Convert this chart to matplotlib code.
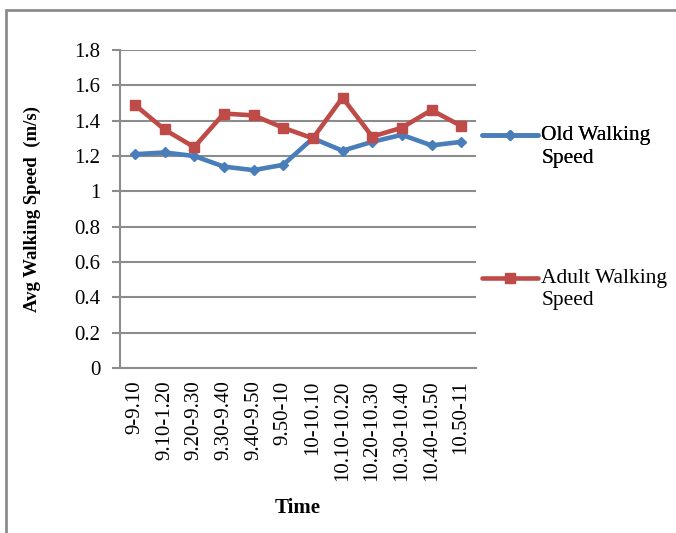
import matplotlib
matplotlib.use("Agg")
from matplotlib import pyplot as plt
from matplotlib import transforms as mtransforms
from matplotlib.legend_handler import HandlerLine2D
from matplotlib.patches import Rectangle

# данные
time_slots = ["9-9.10", "9.10-1.20", "9.20-9.30", "9.30-9.40", "9.40-9.50", "9.50-10",
              "10-10.10", "10.10-10.20", "10.20-10.30", "10.30-10.40", "10.40-10.50", "10.50-11"]
old_speed = [1.21, 1.22, 1.20, 1.14, 1.12, 1.15, 1.30, 1.23, 1.28, 1.32, 1.26, 1.28]
adult_speed = [1.49, 1.35, 1.25, 1.44, 1.43, 1.36, 1.30, 1.53, 1.31, 1.36, 1.46, 1.37]
y_ticks = [0, 0.2, 0.4, 0.6, 0.8, 1, 1.2, 1.4, 1.6, 1.8]

BLUE = "#4a7ebb"
RED = "#be4b48"
GRID = "#8c8c8c"
FS = 15

plt.rcParams["font.family"] = ["Liberation Serif", "DejaVu Serif"]


class FirstLineHandler(HandlerLine2D):
    """
    Маркер легенды на уровне первой строки подписи (как в Excel)
    """

    def create_artists(self, legend, orig_handle, xdescent, ydescent, width, height, fontsize, trans):
        trans = trans + mtransforms.ScaledTranslation(0, 8 / 72, legend.figure.dpi_scale_trans)
        return super().create_artists(legend, orig_handle, xdescent, ydescent, width, height,
                                      fontsize, trans)


def main() -> None:
    fig = plt.figure(figsize=(6.76, 5.33), dpi=100)
    ax = fig.add_axes([120 / 676, 1 - 368 / 533, 356 / 676, 318 / 533])

    x = list(range(len(time_slots)))
    l_old, = ax.plot(x, old_speed, color=BLUE, lw=3.3, marker="D", ms=5,
                     label="Old Walking\nSpeed", solid_capstyle="round")
    l_adult, = ax.plot(x, adult_speed, color=RED, lw=3.3, marker="s", ms=7,
                       label="Adult Walking\nSpeed", solid_capstyle="round")

    ax.set_xlim(-0.5, len(time_slots) - 0.5)
    ax.set_ylim(0, 1.8)
    ax.set_yticks(y_ticks)
    ax.set_yticklabels([f"{v:g}" for v in y_ticks], fontsize=FS)
    ax.set_xticks(x)
    ax.set_xticklabels(time_slots, rotation=90, fontsize=FS)
    ax.tick_params(axis="x", length=0, pad=9)
    ax.tick_params(axis="y", length=6, width=1.5, color=GRID, pad=8)

    ax.yaxis.grid(True, color=GRID, lw=1.5)
    ax.set_axisbelow(True)
    for s in ("top", "right"):
        ax.spines[s].set_visible(False)
    for s in ("left", "bottom"):
        ax.spines[s].set_color(GRID)
        ax.spines[s].set_linewidth(1.5)

    ax.set_xlabel("Time", fontsize=FS, fontweight="bold", labelpad=12)
    ax.set_ylabel("Avg Walking Speed  (m/s)", fontsize=13.5, fontweight="bold", labelpad=24)

    # две отдельные легенды, как в Excel
    leg_kw = dict(loc="upper left", frameon=False, handlelength=2.6, handletextpad=0.15,
                  borderaxespad=0, borderpad=0, prop={"size": FS + 0.5},
                  handler_map={matplotlib.lines.Line2D: FirstLineHandler()})
    leg1 = fig.legend(handles=[l_old], bbox_to_anchor=(482 / 676, 1 - 126 / 533), **leg_kw)
    for t in leg1.get_texts():
        t.set_linespacing(1.25)
    fig.add_artist(leg1)
    leg2 = fig.legend(handles=[l_adult], bbox_to_anchor=(482 / 676, 1 - 269 / 533), **leg_kw)
    for t in leg2.get_texts():
        t.set_linespacing(1.25)

    # рамка вокруг рисунка
    fig.add_artist(Rectangle((6 / 676, -0.1), 1.2, 1.1 - 10.5 / 533, transform=fig.transFigure,
                             fill=False, edgecolor=GRID, lw=2))

    fig.savefig("out.png", dpi=100)


if __name__ == '__main__':
    main()
